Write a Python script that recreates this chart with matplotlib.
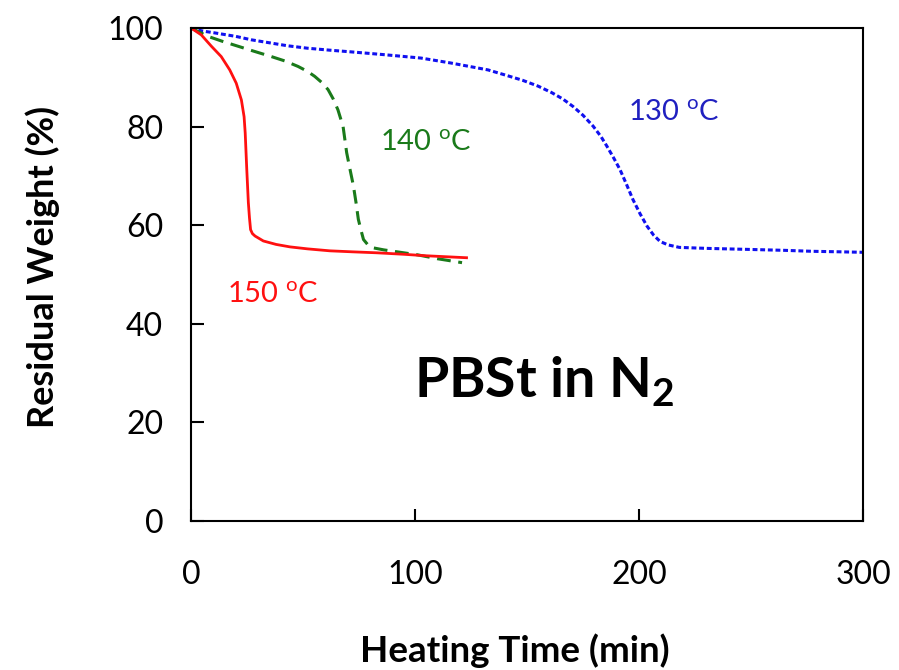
import matplotlib
matplotlib.use("Agg")
import matplotlib.pyplot as plt

# Data
t150 = [0, 4.6, 9.1, 13.5, 17.3, 20.2, 22.5, 23.7, 24.2, 24.9, 25.6, 26.1, 26.6, 27.4, 28.6, 32.3, 38, 44.2, 52, 62, 72, 83, 95, 105, 114, 123]
w150 = [100, 98.6, 96.3, 94.2, 91.5, 88.8, 85.4, 82, 78.7, 71.3, 64.6, 61.5, 59.1, 58.3, 57.8, 56.8, 56.1, 55.6, 55.2, 54.8, 54.6, 54.4, 54.1, 53.8, 53.6, 53.4]

t140 = [0, 7.6, 14, 21, 28, 35.9, 42, 47.8, 52, 55.2, 58.5, 61.2, 63.5, 65.6, 67.9, 69.5, 71, 72.5, 73.7, 74.7, 76, 77, 79, 81.4, 86, 92, 101, 110, 121]
w140 = [100, 98.3, 97.3, 96.3, 95.3, 94.2, 93.3, 92.2, 91.2, 90.2, 88.9, 87.5, 85.6, 83.4, 80, 74.7, 71.3, 68, 64.5, 61.2, 58.8, 57.1, 56, 55.4, 55, 54.6, 54, 53.2, 52.4]

t130 = [0, 5, 10.7, 20, 27, 35, 43, 52, 62, 73, 86, 102.7, 116, 132.6, 140, 148, 155, 161, 166, 170.5, 175, 179.5, 183, 185.7,
        188.5, 191.5, 194.5, 197.3, 200.5, 203.6, 206.5, 209.4, 213, 218, 230, 248, 265, 277.7, 290, 300]
w130 = [100, 99.4, 99.0, 98.3, 97.6, 97.0, 96.4, 95.9, 95.5, 95.1, 94.6, 93.9, 92.9, 91.5, 90.5, 89.4, 88.2, 86.9, 85.6, 84.1, 82.3, 80.1, 78, 76,
        73.8, 71.3, 68.2, 65.2, 62.3, 59.8, 58, 56.7, 56, 55.5, 55.3, 55.1, 54.9, 54.7, 54.6, 54.5]

x_ticks = [0, 100, 200, 300]
y_ticks = [0, 20, 40, 60, 80, 100]

plt.rcParams['font.family'] = ['Lato', 'DejaVu Sans']
plt.rcParams['mathtext.fontset'] = 'custom'
plt.rcParams['mathtext.rm'] = 'Lato'
plt.rcParams['mathtext.bf'] = 'Lato:bold'

fig = plt.figure(figsize=(8.99, 6.70), dpi=100)
ax = fig.add_axes([191/899, 1-521/670, 672/899, 493/670])

ax.plot(t130, w130, color='#1010f0', lw=2.2, linestyle=(0, (1.6, 0.9)))
ax.plot(t140, w140, color='#1a7a1a', lw=2.2, linestyle=(0, (4.5, 2.5)))
ax.plot(t150, w150, color='#ff1010', lw=2.0, linestyle='-')

ax.set_xlim(0, 300)
ax.set_ylim(0, 100)
ax.set_xticks(x_ticks)
ax.set_yticks(y_ticks)
ax.tick_params(axis='both', direction='in', length=9, width=1.5, labelsize=23)
ax.tick_params(axis='x', pad=28)
ax.tick_params(axis='y', pad=20)
for s in ax.spines.values():
    s.set_linewidth(1.5)

ax.text(195, 81.1, r'130 $^{\mathrm{o}}$C', color='#2020c0', fontsize=21, ha='left', va='baseline')
ax.text(84.4, 75, r'140 $^{\mathrm{o}}$C', color='#1a7a1a', fontsize=21, ha='left', va='baseline')
ax.text(16, 44.3, r'150 $^{\mathrm{o}}$C', color='#ff1010', fontsize=21, ha='left', va='baseline')
ax.text(99.5, 25.2, r'PBSt in N$_{\mathbf{2}}$', color='black', fontsize=40, fontweight='bold', ha='left', va='baseline')

fig.text(43/899, 1-267/670, 'Residual Weight (%)', rotation=90, ha='center', va='center', fontsize=26, fontweight='bold')
fig.text(515/899, 1-662/670, 'Heating Time (min)', ha='center', va='baseline', fontsize=26.5, fontweight='bold')

fig.savefig('out.png', dpi=100)
